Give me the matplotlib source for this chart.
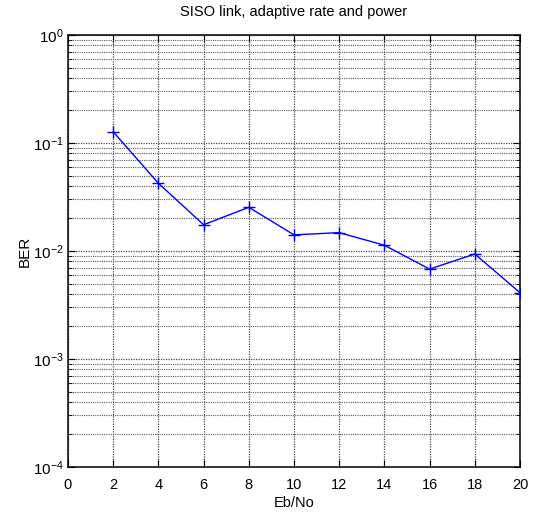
import matplotlib
matplotlib.use("Agg")
import matplotlib.pyplot as plt
from matplotlib.ticker import LogLocator, NullFormatter

plt.rcParams['font.family'] = ['Liberation Sans', 'DejaVu Sans']
plt.rcParams['mathtext.fontset'] = 'custom'
plt.rcParams['mathtext.rm'] = 'Liberation Sans'

ebno = [2, 4, 6, 8, 10, 12, 14, 16, 18, 20]
ber = [0.127, 0.0424, 0.0175, 0.0254, 0.0141, 0.0148, 0.0113, 0.0068, 0.00938, 0.00411]
x_ticks = [0, 2, 4, 6, 8, 10, 12, 14, 16, 18, 20]

fig = plt.figure(figsize=(5.45, 5.13), dpi=100)
ax = fig.add_axes([68 / 545, 1 - 467 / 513, 452 / 545, 432 / 513])

ax.semilogy(ebno, ber, color='#0000ff', marker='+', markersize=8,
            linewidth=1.0, markeredgewidth=1.0, zorder=3)

ax.set_xlim(0, 20)
ax.set_ylim(1e-4, 1)
ax.set_xticks(x_ticks)
ax.yaxis.set_major_locator(LogLocator(base=10, numticks=10))
ax.yaxis.set_minor_locator(LogLocator(base=10, subs=range(2, 10), numticks=20))
ax.yaxis.set_minor_formatter(NullFormatter())

ax.grid(True, which='major', axis='both', color='0.3', linestyle=(0, (1, 1)), linewidth=0.9)
ax.grid(True, which='minor', axis='y', color='0.35', linestyle=(0, (1, 1)), linewidth=0.8)

ax.tick_params(which='both', direction='in', top=True, right=True)
ax.tick_params(axis='x', labelsize=10.5, pad=8)
ax.tick_params(axis='y', labelsize=11, pad=3)
ax.tick_params(which='major', length=5, width=0.8)
ax.tick_params(which='minor', length=3, width=0.6)
for s in ax.spines.values():
    s.set_linewidth(1.1)

ax.set_title('SISO link, adaptive rate and power', fontsize=10.5, pad=14)
ax.set_xlabel('Eb/No', fontsize=10.5, labelpad=3)
ax.set_ylabel('BER', fontsize=11, labelpad=1)

fig.savefig('out.png', dpi=100)
